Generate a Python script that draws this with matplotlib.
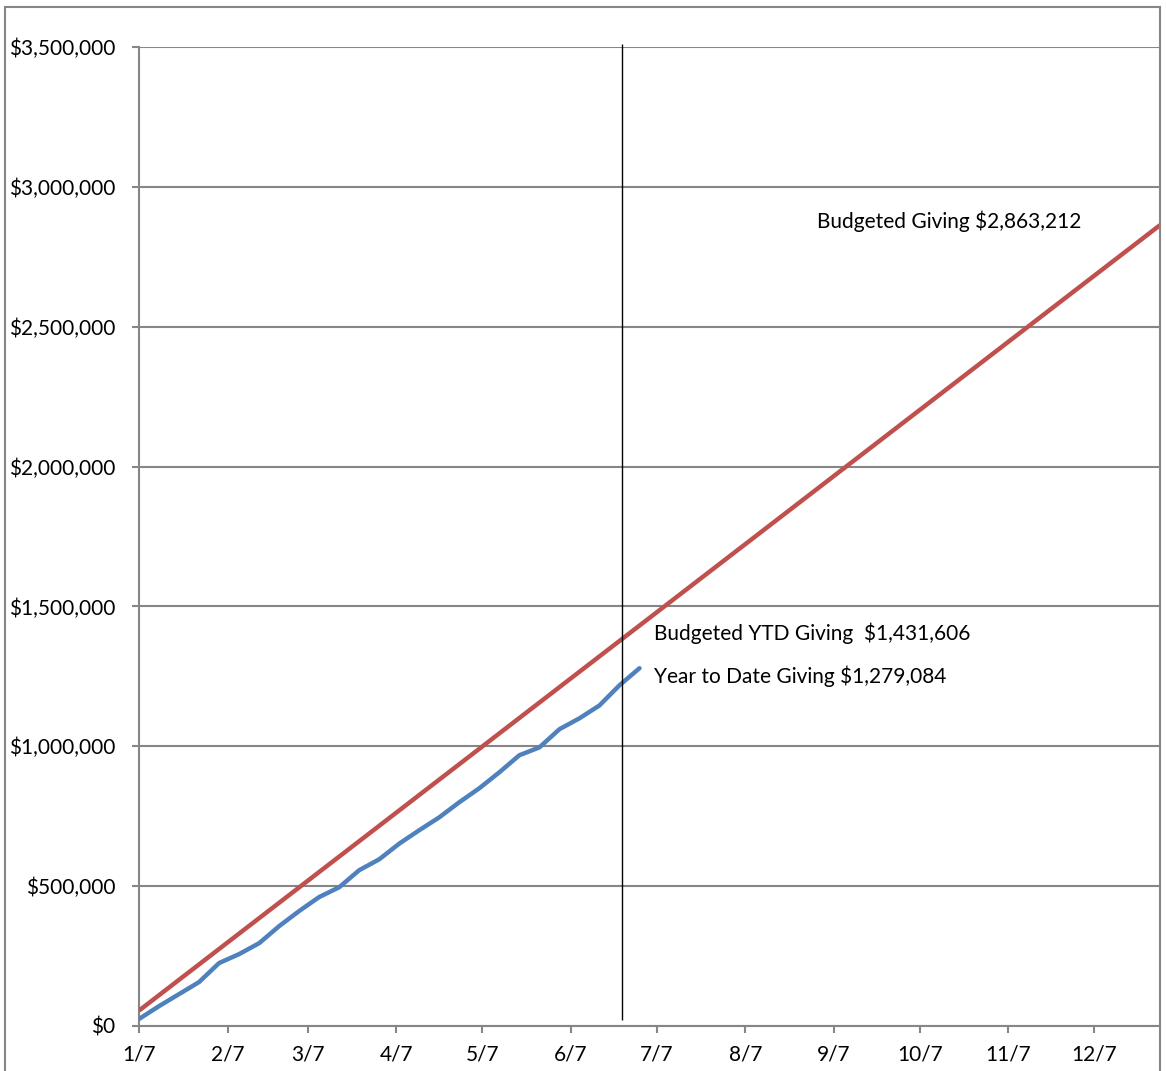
import numpy as np
import matplotlib
matplotlib.use("Agg")
import matplotlib.pyplot as plt
from matplotlib.patches import Rectangle
from matplotlib.ticker import FuncFormatter

plt.rcParams['font.family'] = ['Lato', 'DejaVu Sans']

# weekly budget line, 52 weeks
weekly_budget = 2863212 / 52
budget_weeks = np.arange(1, 53)
budget_values = weekly_budget * budget_weeks
# year to date giving, 26 weeks
ytd_values = [25000, 71000, 114000, 157000, 225000, 257000, 296000, 357000,
              411000, 461000, 496000, 557000, 596000, 652000, 700000, 746000,
              800000, 850000, 907000, 968000, 996000, 1061000, 1100000,
              1146000, 1218000, 1279084]

start = np.datetime64('2013-01-07')
budget_dates = start + (budget_weeks - 1) * np.timedelta64(7, 'D')
ytd_dates = start + np.arange(len(ytd_values)) * np.timedelta64(7, 'D')
today = np.datetime64('2013-06-25')

tick_dates = [np.datetime64('2013-%02d-07' % m) for m in range(1, 13)]
tick_labels = ['1/7', '2/7', '3/7', '4/7', '5/7', '6/7', '7/7', '8/7',
               '9/7', '10/7', '11/7', '12/7']
y_ticks = np.arange(0, 3500001, 500000)

W, H = 1166, 1071
fig = plt.figure(figsize=(W / 100, H / 100), dpi=100)
# outer chart border
fig.patches.append(Rectangle((5 / W, -0.05), 1155 / W, 1.05 - 7 / H,
                             transform=fig.transFigure, fill=False,
                             edgecolor='#868686', linewidth=1.5))
ax = fig.add_axes([139 / W, 45 / H, 1021 / W, (1026 - 47) / H])

grey = '#868686'
ax.plot(budget_dates, budget_values, color='#C0504D', lw=3.2, zorder=3,
        solid_capstyle='butt')
ax.plot(ytd_dates, ytd_values, color='#4F81BD', lw=3.2, zorder=4,
        solid_capstyle='round')
ax.vlines(today, 20000, 3510000, color='black', lw=1.0, zorder=5, clip_on=False)

ax.set_xlim(budget_dates[0], budget_dates[-1])
ax.set_ylim(0, 3500000)
ax.set_xticks(tick_dates)
ax.set_xticklabels(tick_labels)
ax.set_yticks(y_ticks)
ax.yaxis.set_major_formatter(FuncFormatter(lambda v, p: '${:,.0f}'.format(v)))
ax.grid(axis='y', color=grey, lw=1.5)
ax.grid(axis='x', visible=False)
ax.set_axisbelow(True)
for s in ['top', 'right']:
    ax.spines[s].set_visible(False)
for s in ['left', 'bottom']:
    ax.spines[s].set_color(grey)
    ax.spines[s].set_linewidth(1.5)
ax.tick_params(axis='both', colors=grey, labelcolor='black', labelsize=15,
               direction='out', length=5, width=1.5)
ax.tick_params(axis='y', pad=12)
ax.tick_params(axis='x', pad=8)

ax.text(np.datetime64('2013-09-01'), 2877000, 'Budgeted Giving $2,863,212',
        fontsize=15, va='center', ha='left')
ax.text(np.datetime64('2013-07-06'), 1405000, 'Budgeted YTD Giving  $1,431,606',
        fontsize=15, va='center', ha='left')
ax.text(np.datetime64('2013-07-06'), 1250000, 'Year to Date Giving $1,279,084',
        fontsize=15, va='center', ha='left')

fig.savefig('out.png', dpi=100)
